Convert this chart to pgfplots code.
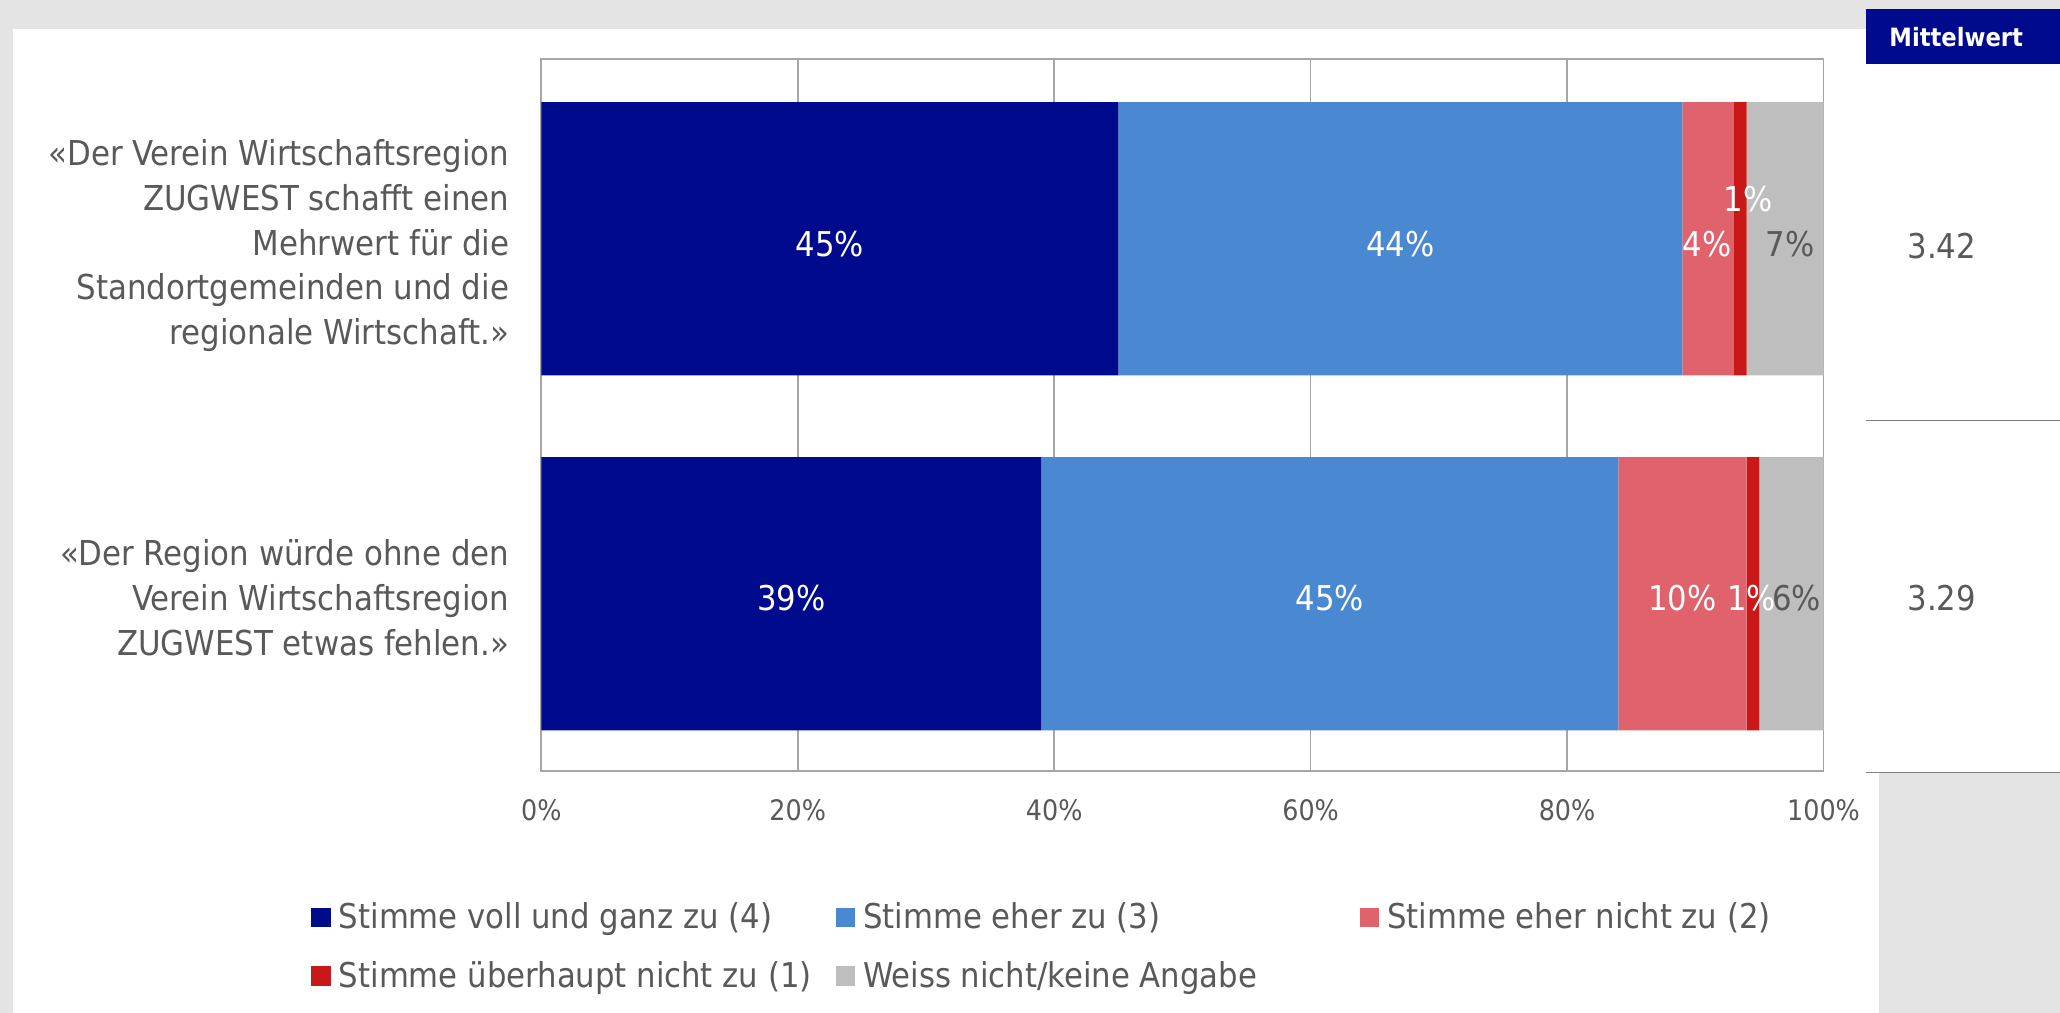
\documentclass[border=0pt]{standalone}
\usepackage{pgfplots}
\pgfplotsset{compat=1.18}
\usepackage{fontspec}
\setmainfont{DejaVu Sans Condensed}
\definecolor{navy}{HTML}{000A8C}
\definecolor{lblue}{HTML}{4A89D1}
\definecolor{pinkc}{HTML}{E0626D}
\definecolor{dred}{HTML}{C81818}
\definecolor{lgray}{HTML}{BEBEBE}
\definecolor{bgc}{HTML}{E4E4E4}
\definecolor{txt}{HTML}{595959}
\definecolor{gridc}{HTML}{A6A6A6}
\definecolor{linec}{HTML}{808080}
\begin{document}
\begin{tikzpicture}[x=0.5pt,y=0.5pt]
\fill[bgc] (0,0) rectangle (1568,771);
\fill[white] (10,0) rectangle (1430,749);
\fill[white] (1420,183) rectangle (1568,722);
\fill[navy] (1420,722) rectangle (1568,764);
\node[text=white, font=\bfseries\fontsize{9.6}{11}\selectfont] at (1489,743) {Mittelwert};
\draw[linec, line width=0.6pt] (1420,451) -- (1568,451);
\draw[linec, line width=0.6pt] (1420,183) -- (1568,183);
\node[text=txt, font=\fontsize{13}{15}\selectfont] at (1478,584) {3.42};
\node[text=txt, font=\fontsize{13}{15}\selectfont] at (1478,316) {3.29};

\begin{axis}[
  at={(206pt,92pt)}, anchor=south west,
  width=488pt, height=271pt, scale only axis,
  xbar stacked, bar width=0.77,
  xmin=0, xmax=100, ymin=-0.506, ymax=1.5, y dir=reverse,
  xtick={0,20,40,60,80,100},
  xticklabels={0\%,20\%,40\%,60\%,80\%,100\%},
  ytick={0.02,1.011},
  yticklabels={{«Der Verein Wirtschaftsregion\\ZUGWEST schafft einen\\Mehrwert für die\\Standortgemeinden und die\\regionale Wirtschaft.»},{«Der Region würde ohne den\\Verein Wirtschaftsregion\\ZUGWEST etwas fehlen.»}},
  xmajorgrids,
  major grid style={gridc, line width=0.6pt},
  axis line style={gridc, line width=0.6pt},
  major tick length=0pt,
  xticklabel style={font=\fontsize{10.75}{12}\selectfont, text=txt, anchor=center, yshift=-15pt},
  yticklabel style={font=\fontsize{13.05}{17}\selectfont, text=txt, align=right, inner sep=0pt, xshift=-12pt},
  every axis plot/.append style={draw=none, legend image code/.code={\fill[##1] (0pt,-3.75pt) rectangle (7.5pt,3.75pt);}},
  legend columns=3, legend cell align=left,
  legend style={at={(-0.1793,-0.1845)}, anchor=north west, draw=none, fill=none,
    inner sep=0pt, outer sep=0pt, column sep=0pt, row sep=11pt,
    font=\fontsize{13}{16}\selectfont, text=txt,
    nodes={inner sep=0pt},
    /tikz/every odd column/.append style={column sep=3pt}},
]
\addplot[fill=navy] coordinates {(45,0) (39,1)};
\addlegendentry{\makebox[189pt][l]{Stimme voll und ganz zu (4)}}
\addplot[fill=lblue] coordinates {(44,0) (45,1)};
\addlegendentry{\makebox[189pt][l]{Stimme eher zu (3)}}
\addplot[fill=pinkc] coordinates {(4,0) (10,1)};
\addlegendentry{\makebox[189pt][l]{Stimme eher nicht zu (2)}}
\addplot[fill=dred] coordinates {(1,0) (1,1)};
\addlegendentry{\makebox[189pt][l]{Stimme überhaupt nicht zu (1)}}
\addplot[fill=lgray] coordinates {(7,0) (6,1)};
\addlegendentry{\makebox[189pt][l]{Weiss nicht/keine Angabe}}
\end{axis}

\begin{axis}[
  at={(206pt,92pt)}, anchor=south west,
  width=488pt, height=271pt, scale only axis,
  xmin=0, xmax=100, ymin=-0.506, ymax=1.5, y dir=reverse,
  hide axis, clip=false,
]
\addplot[draw=none, mark=none,
  point meta=explicit symbolic, nodes near coords={\pgfplotspointmeta\%},
  every node near coord/.append style={anchor=center, text=white, inner sep=0pt, font=\fontsize{13}{15}\selectfont}]
  table[meta=lab] {
x y lab
22.5 0.015 45
67 0.015 44
90.9 0.015 4
94.1 -0.111 1
19.5 1.013 39
61.5 1.013 45
89 1.013 10
94.4 1.013 1
};
\addplot[draw=none, mark=none,
  point meta=explicit symbolic, nodes near coords={\pgfplotspointmeta\%},
  every node near coord/.append style={anchor=center, text=txt, inner sep=0pt, font=\fontsize{13}{15}\selectfont}]
  table[meta=lab] {
x y lab
97.4 0.015 7
97.9 1.013 6
};
\end{axis}
\pgfresetboundingbox
\useasboundingbox (0,0) rectangle (1568,771);
\end{tikzpicture}
\end{document}
